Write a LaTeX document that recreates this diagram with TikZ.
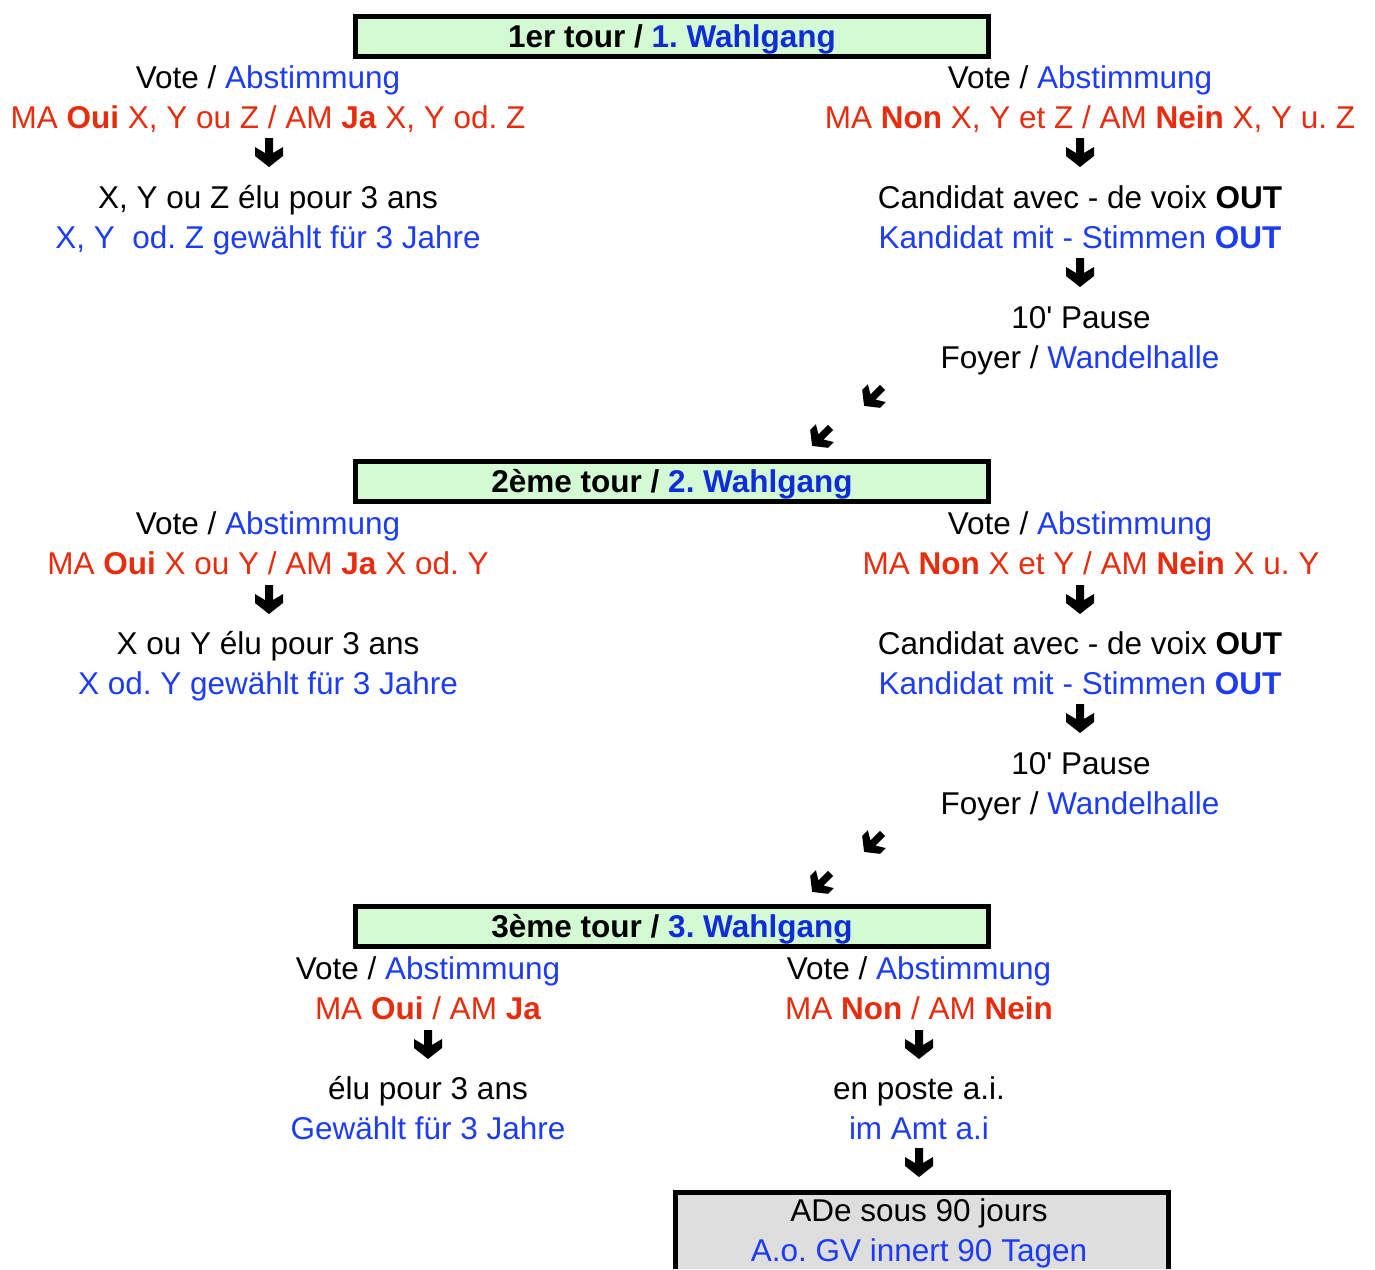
\documentclass[tikz,border=0pt]{standalone}
\usepackage{fontspec}
\setmainfont{Liberation Sans}
\frenchspacing
\definecolor{tblue}{RGB}{28,60,245}
\definecolor{hblue}{RGB}{15,45,215}
\definecolor{tred}{RGB}{232,45,15}
\definecolor{hgreen}{RGB}{212,250,212}
\definecolor{bgray}{RGB}{222,222,222}
\tikzset{
  txt/.style={anchor=base,inner sep=0pt,font=\fontsize{31.5}{40}\selectfont},
  red/.style={txt,text=tred},
  blu/.style={txt,text=tblue},
  hdr/.style={draw=black,line width=5pt,fill=hgreen},
  darrowpic/.pic={\fill[black] (-4,-15)--(4,-15)--(4,0)--(14,-6)--(14,3)--(0,14)--(-14,3)--(-14,-6)--(-4,0)--cycle;}
}
\newcommand{\bl}[1]{\textcolor{tblue}{#1}}
\newcommand{\hb}[1]{\textcolor{hblue}{#1}}
\newcommand{\apos}{\XeTeXglyph\XeTeXcharglyph"27\relax}
\begin{document}
\begin{tikzpicture}[x=1pt,y=-1pt]
\useasboundingbox (0,0) rectangle (1375,1269);
% header boxes
\draw[hdr] (355,16) rectangle (988,56);
\draw[hdr] (355,461) rectangle (988,501);
\draw[hdr] (355,906) rectangle (988,946);
\node[txt] (h1) at (672,47) {\bfseries 1er tour / \hb{1. Wahlgang}};
\node[txt] (h2) at (672,492) {\bfseries 2ème tour / \hb{2. Wahlgang}};
\node[txt] (h3) at (672,937) {\bfseries 3ème tour / \hb{3. Wahlgang}};
% round 1 left
\node[txt] (v1l) at (268,88) {Vote / \bl{Abstimmung}};
\node[red] (m1l) at (268,128) {MA \textbf{Oui} X, Y ou Z / AM \textbf{Ja} X, Y od. Z};
\pic at (269,153) {darrowpic};
\node[txt] (e1l) at (268,208) {X, Y ou Z élu pour 3 ans};
\node[blu] (g1l) at (268,248) {X, Y\ \ od. Z gewählt für 3 Jahre};
% round 1 right
\node[txt] (v1r) at (1080,88) {Vote / \bl{Abstimmung}};
\node[red] (m1r) at (1090,128) {MA \textbf{Non} X, Y et Z / AM \textbf{Nein} X, Y u. Z};
\pic at (1080,153) {darrowpic};
\node[txt] (c1r) at (1080,208) {Candidat avec - de voix \textbf{OUT}};
\node[blu] (k1r) at (1080,248) {Kandidat mit - Stimmen \textbf{OUT}};
\pic at (1080,273) {darrowpic};
\node[txt] (p1r) at (1081,328) {10\apos{} Pause};
\node[txt] (f1r) at (1080,368) {Foyer / \bl{Wandelhalle}};
\pic[rotate=-45,scale=0.9] at (873,397) {darrowpic};
\pic[rotate=-45,scale=0.9] at (821,437) {darrowpic};
% round 2 left
\node[txt] (v2l) at (268,534) {Vote / \bl{Abstimmung}};
\node[red] (m2l) at (268,574) {MA \textbf{Oui} X ou Y / AM \textbf{Ja} X od. Y};
\pic at (269,600) {darrowpic};
\node[txt] (e2l) at (268,654) {X ou Y élu pour 3 ans};
\node[blu] (g2l) at (268,694) {X od. Y gewählt für 3 Jahre};
% round 2 right
\node[txt] (v2r) at (1080,534) {Vote / \bl{Abstimmung}};
\node[red] (m2r) at (1091,574) {MA \textbf{Non} X et Y / AM \textbf{Nein} X u. Y};
\pic at (1080,600) {darrowpic};
\node[txt] (c2r) at (1080,654) {Candidat avec - de voix \textbf{OUT}};
\node[blu] (k2r) at (1080,694) {Kandidat mit - Stimmen \textbf{OUT}};
\pic at (1080,719) {darrowpic};
\node[txt] (p2r) at (1081,774) {10\apos{} Pause};
\node[txt] (f2r) at (1080,814) {Foyer / \bl{Wandelhalle}};
\pic[rotate=-45,scale=0.9] at (873,843) {darrowpic};
\pic[rotate=-45,scale=0.9] at (821,883) {darrowpic};
% round 3 left
\node[txt] (v3l) at (428,979) {Vote / \bl{Abstimmung}};
\node[red] (m3l) at (428,1019) {MA \textbf{Oui} / AM \textbf{Ja}};
\pic at (428,1045) {darrowpic};
\node[txt] (e3l) at (428,1099) {élu pour 3 ans};
\node[blu] (g3l) at (428,1139) {Gewählt für 3 Jahre};
% round 3 right
\node[txt] (v3r) at (919,979) {Vote / \bl{Abstimmung}};
\node[red] (m3r) at (919,1019) {MA \textbf{Non} / AM \textbf{Nein}};
\pic at (919,1045) {darrowpic};
\node[txt] (e3r) at (919,1099) {en poste a.i.};
\node[blu] (i3r) at (919,1139) {im Amt a.i};
\pic at (919,1163) {darrowpic};
% bottom box
\fill[bgray] (675,1192) rectangle (1168,1269);
\draw[line width=5pt] (675,1269) -- (675,1192) -- (1168,1192) -- (1168,1269);
\node[txt] (ade) at (919,1221) {ADe sous 90 jours};
\node[blu] (ao) at (919,1261) {A.o. GV innert 90 Tagen};
\end{tikzpicture}
\end{document}
